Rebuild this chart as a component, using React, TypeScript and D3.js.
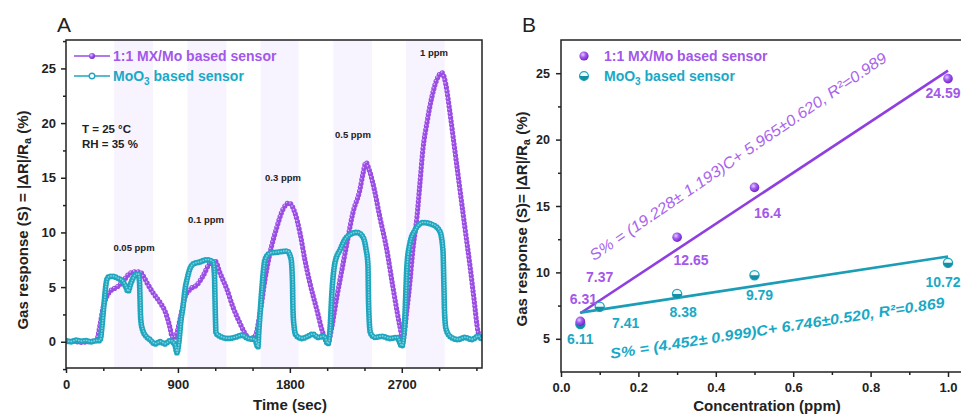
import React, { useRef, useEffect } from 'react'
import * as d3 from 'd3'

const W = 961
const H = 414
const FONT = '"Liberation Sans", Arial, Helvetica, sans-serif'
const INK = '#222'
const PURPLE = '#9a4de2'
const PURPLE_TEXT = '#a258ea'
const CYAN = '#1fa6be'
const CYAN_TEXT = '#19a9c6'

// ---- panel A: dynamic response (time in s, response in %) ----
const gasOn = [[388, 700], [977, 1290], [1565, 1870], [2150, 2460], [2735, 3045]]
const ppmLabels = ['0.05 ppm', '0.1 ppm', '0.3 ppm', '0.5 ppm', '1 ppm']
const timeTicks = [0, 900, 1800, 2700]
const responseTicksA = [0, 5, 10, 15, 20, 25]

const mxMoCurve = [
  [0, 0], [60, 0.05], [120, -0.05], [180, 0], [240, 0.1], [249, 0.2], [273, 1.5], [298, 3.1], [322, 4.0],
  [354, 4.6], [410, 5.0], [458, 5.5], [498, 6.1], [547, 6.4], [595, 6.4], [627, 5.9], [651, 5.4], [699, 4.5],
  [756, 3.6], [788, 3.0], [812, 2.3], [836, 1.3], [852, 0.5], [868, 0.3], [892, 0.8], [916, 2.0], [957, 4.1],
  [997, 4.8], [1053, 5.2], [1101, 6.0], [1158, 7.2], [1198, 7.4], [1238, 6.3], [1294, 4.8], [1342, 3.2],
  [1399, 1.7], [1455, 0.5], [1479, 0.3], [1519, 0.5], [1560, 2.6], [1600, 5.7], [1640, 8.1], [1696, 10.5],
  [1744, 12.1], [1793, 12.7], [1841, 11.8], [1881, 10.0], [1921, 7.5], [1961, 5.4], [2018, 2.9], [2066, 0.8],
  [2106, -0.1], [2138, 1.4], [2178, 4.1], [2219, 6.6], [2259, 9.0], [2307, 11.8], [2363, 13.9], [2387, 15.3],
  [2412, 16.4], [2436, 15.8], [2468, 14.5], [2524, 11.4], [2580, 8.4], [2629, 5.0], [2685, 1.4], [2709, 0.2],
  [2741, 2.9], [2765, 5.4], [2789, 8.4], [2822, 11.4], [2846, 14.5], [2870, 17.6], [2902, 20.0], [2942, 22.4],
  [2982, 24.0], [3023, 24.6], [3055, 23.5], [3087, 21.0], [3127, 17.5], [3167, 14.0], [3207, 10.5],
  [3248, 7.0], [3280, 4.0], [3312, 1.0], [3336, 0.2],
]

const mooCurve = [
  [0, 0.1], [40, 0.0], [80, 0.15], [120, 0.05], [160, 0.1], [200, 0.0], [240, 0.1], [270, 0.1], [281, 0.5],
  [290, 1.5], [306, 3.5], [322, 5.3], [338, 5.9], [370, 6.0], [418, 5.8], [458, 5.5], [482, 5.0], [498, 4.6],
  [523, 5.4], [555, 6.1], [579, 6.2], [591, 5.5], [595, 4.0], [599, 2.5], [603, 1.8], [619, 1.0], [643, 0.5],
  [675, 0.2], [716, -0.2], [756, 0.0], [796, -0.2], [836, 0.1], [876, -0.3], [892, -1.0], [908, 0.0],
  [925, 2.0], [941, 3.2], [957, 4.8], [973, 5.7], [997, 6.7], [1021, 7.1], [1077, 7.3], [1134, 7.5],
  [1182, 7.3], [1194, 6.0], [1198, 4.0], [1202, 2.0], [1206, 0.8], [1238, 0.5], [1302, 0.3], [1358, 0.4],
  [1415, 0.6], [1463, 0.3], [1519, 0.2], [1543, -0.5], [1551, 1.0], [1560, 2.5], [1576, 5.0], [1600, 7.5],
  [1640, 8.1], [1704, 8.2], [1777, 8.3], [1809, 7.6], [1821, 5.5], [1825, 3.0], [1833, 1.5], [1849, 0.6],
  [1897, 0.3], [1945, 0.5], [1986, 0.7], [2026, 0.4], [2074, 0.5], [2106, -0.2], [2122, 1.0], [2138, 4.5],
  [2162, 7.2], [2203, 8.4], [2259, 9.6], [2339, 10.0], [2387, 9.6], [2412, 8.5], [2428, 7.0], [2432, 4.0],
  [2436, 2.5], [2448, 0.8], [2484, 0.4], [2540, 0.5], [2605, 0.3], [2661, 0.4], [2701, -0.4], [2717, 0.8],
  [2725, 2.3], [2741, 6.9], [2765, 9.0], [2806, 10.2], [2870, 10.9], [2950, 10.7], [3006, 10.1],
  [3031, 8.4], [3039, 5.0], [3043, 3.0], [3055, 1.2], [3087, 0.5], [3151, 0.2], [3207, 0.4], [3264, 0.2],
  [3312, 0.5], [3336, 0.3],
]

// ---- panel B: response vs concentration ----
const concentrations = [0.05, 0.1, 0.3, 0.5, 1.0]
const mxMoResponse = [6.31, 7.37, 12.65, 16.4, 24.59]
const mooResponse = [6.11, 7.41, 8.38, 9.79, 10.72]
const mxMoFit = [19.228, 5.965]
const mooFit = [4.452, 6.746]
const mxMoEquation = 'S% = (19.228± 1.193)C+ 5.965±0.620, R²=0.989'
const mooEquation = 'S% = (4.452± 0.999)C+ 6.746±0.520, R²=0.869'
const concTicks = [0, 0.2, 0.4, 0.6, 0.8, 1.0]
const responseTicksB = [5, 10, 15, 20, 25]

// layout for annotations (data coords / pixel offsets)
const ppmLabelAt = [[547, 8.3], [1126, 10.9], [1745, 14.7], [2307, 18.6], [2959, 26.1]]
const mxMoLabelOffset = [[3, -17], [0, -25], [14, 28], [13, 31], [-5, 19]]
const mooLabelOffset = [[0, 20], [26, 21], [6, 23], [5, 25], [-5, 24]]

function styleAxis(g, size) {
  g.attr('font-family', FONT).attr('font-size', size).attr('font-weight', 'bold')
  g.select('.domain').remove()
  g.selectAll('line').attr('stroke', INK).attr('stroke-width', 1.5)
  g.selectAll('text').attr('fill', INK)
}

function dottedSeries(g, d, color, w, gap, inner, innerW, shift) {
  g.append('path').attr('d', d).attr('fill', 'none').attr('stroke', color).attr('stroke-width', 1.2)
  g.append('path').attr('d', d).attr('fill', 'none').attr('stroke', color).attr('stroke-width', w)
    .attr('stroke-linecap', 'round').attr('stroke-dasharray', `0 ${gap}`)
  g.append('path').attr('d', d).attr('fill', 'none').attr('stroke', inner).attr('stroke-width', innerW)
    .attr('stroke-linecap', 'round').attr('stroke-dasharray', `0 ${gap}`)
    .attr('transform', `translate(${shift[0]},${shift[1]})`)
}

function halfMarker(g, x, y, r) {
  g.append('circle').attr('cx', x).attr('cy', y).attr('r', r).attr('fill', '#eefafc').attr('stroke', CYAN).attr('stroke-width', 1.3)
  g.append('path').attr('d', `M${x - r},${y} A${r},${r} 0 0 0 ${x + r},${y} Z`).attr('fill', '#138fa6')
}

function drawA(svg) {
  const x = d3.scaleLinear().domain([0, 3345]).range([66, 482])
  const y = d3.scaleLinear().domain([-2.4, 27.6]).range([368, 40])
  const a = svg.append('g')

  a.append('clipPath').attr('id', 'clipA').append('rect')
    .attr('x', 66).attr('y', 40).attr('width', 416).attr('height', 328)

  a.selectAll('rect.band').data(gasOn).join('rect').attr('class', 'band')
    .attr('x', d => x(d[0])).attr('width', d => x(d[1]) - x(d[0]))
    .attr('y', y(27.6)).attr('height', y(-2.4) - y(27.6)).attr('fill', '#f7f3ff')

  const line = d3.line().x(d => x(d[0])).y(d => y(d[1])).curve(d3.curveMonotoneX)
  const plot = a.append('g').attr('clip-path', 'url(#clipA)')
  dottedSeries(plot, line(mxMoCurve), PURPLE, 5.2, 3.8, '#d7b6fb', 1.6, [-0.7, -0.9])
  dottedSeries(plot, line(mooCurve), CYAN, 5.8, 2.6, '#7fd0df', 1.8, [0.3, -0.3])

  const gx = a.append('g').attr('transform', 'translate(0,368)')
    .call(d3.axisBottom(x).tickValues(timeTicks).tickSize(5).tickPadding(7).tickFormat(d3.format('d')))
  styleAxis(gx, 13)
  const gxm = a.append('g').attr('transform', 'translate(0,368)')
    .call(d3.axisBottom(x).tickValues(d3.range(300, 3345, 300).filter(v => v % 900 !== 0)).tickSize(3).tickFormat(() => ''))
  styleAxis(gxm, 13)
  const gy = a.append('g').attr('transform', 'translate(66,0)')
    .call(d3.axisLeft(y).tickValues(responseTicksA).tickSize(5).tickPadding(5))
  styleAxis(gy, 13)
  const gym = a.append('g').attr('transform', 'translate(66,0)')
    .call(d3.axisLeft(y).tickValues(d3.range(-2.5, 27.6, 5)).tickSize(3).tickFormat(() => ''))
  styleAxis(gym, 13)

  a.append('rect').attr('x', 66).attr('y', 40).attr('width', 416).attr('height', 328)
    .attr('fill', 'none').attr('stroke', INK).attr('stroke-width', 1.5)

  a.selectAll('text.ppm').data(ppmLabels).join('text').attr('class', 'ppm')
    .attr('x', (d, i) => x(ppmLabelAt[i][0])).attr('y', (d, i) => y(ppmLabelAt[i][1]))
    .attr('text-anchor', 'middle').attr('font-family', FONT).attr('font-size', 9.5)
    .attr('font-weight', 'bold').attr('fill', INK).text(d => d)

  // legend
  a.append('line').attr('x1', 74).attr('x2', 110).attr('y1', 56).attr('y2', 56).attr('stroke', PURPLE).attr('stroke-width', 1.5)
  a.append('circle').attr('cx', 92).attr('cy', 56).attr('r', 3).attr('fill', 'url(#sphereP)')
  a.append('line').attr('x1', 74).attr('x2', 110).attr('y1', 76).attr('y2', 76).attr('stroke', CYAN).attr('stroke-width', 1.5)
  a.append('circle').attr('cx', 92).attr('cy', 76).attr('r', 2.8).attr('fill', '#fff').attr('stroke', CYAN).attr('stroke-width', 1.4)
  a.append('text').attr('x', 113).attr('y', 61).attr('font-family', FONT).attr('font-size', 14)
    .attr('font-weight', 'bold').attr('fill', PURPLE_TEXT).text('1:1 MX/Mo based sensor')
  const t2 = a.append('text').attr('x', 113).attr('y', 81).attr('font-family', FONT).attr('font-size', 14)
    .attr('font-weight', 'bold').attr('fill', CYAN_TEXT)
  t2.append('tspan').text('MoO')
  t2.append('tspan').attr('dy', 4).attr('font-size', 10).text('3')
  t2.append('tspan').attr('dy', -4).text(' based sensor')

  a.append('text').attr('x', 82).attr('y', 133).attr('font-family', FONT).attr('font-size', 11.5)
    .attr('font-weight', 'bold').attr('fill', INK).text('T = 25 °C')
  a.append('text').attr('x', 82).attr('y', 148).attr('font-family', FONT).attr('font-size', 11.5)
    .attr('font-weight', 'bold').attr('fill', INK).text('RH = 35 %')

  a.append('text').attr('x', 57).attr('y', 32).attr('font-family', FONT).attr('font-size', 21).attr('fill', INK).text('A')
  a.append('text').attr('x', 290).attr('y', 410).attr('text-anchor', 'middle').attr('font-family', FONT)
    .attr('font-size', 15).attr('font-weight', 'bold').attr('fill', INK).text('Time (sec)')
  const yt = a.append('text').attr('transform', 'translate(28,220) rotate(-90)').attr('text-anchor', 'middle')
    .attr('font-family', FONT).attr('font-size', 15).attr('font-weight', 'bold').attr('fill', INK)
  yt.append('tspan').text('Gas response (S) = |ΔR|/R')
  yt.append('tspan').attr('dy', 3).attr('font-size', 11).text('a')
  yt.append('tspan').attr('dy', -3).text(' (%)')
}

function drawB(svg) {
  const x = d3.scaleLinear().domain([0, 1]).range([561, 948])
  const y = d3.scaleLinear().domain([2.5, 27.5]).range([372, 40])
  const b = svg.append('g')

  const gx = b.append('g').attr('transform', 'translate(0,372)')
    .call(d3.axisBottom(x).tickValues(concTicks).tickSize(5).tickPadding(6).tickFormat(d3.format('.1f')))
  styleAxis(gx, 13)
  const gxm = b.append('g').attr('transform', 'translate(0,372)')
    .call(d3.axisBottom(x).tickValues([0.1, 0.3, 0.5, 0.7, 0.9]).tickSize(3).tickFormat(() => ''))
  styleAxis(gxm, 13)
  const gy = b.append('g').attr('transform', 'translate(561,0)')
    .call(d3.axisLeft(y).tickValues(responseTicksB).tickSize(5).tickPadding(6))
  styleAxis(gy, 12.5)
  const gym = b.append('g').attr('transform', 'translate(561,0)')
    .call(d3.axisLeft(y).tickValues([7.5, 12.5, 17.5, 22.5]).tickSize(3).tickFormat(() => ''))
  styleAxis(gym, 12.5)

  b.append('path').attr('d', `M${W + 5},40 H561 V372 H${W + 5}`).attr('fill', 'none')
    .attr('stroke', INK).attr('stroke-width', 1.5)

  // fit lines
  const ends = [concentrations[0], concentrations[concentrations.length - 1]]
  ;[[mxMoFit, '#8f3fe0'], [mooFit, '#1a9db6']].forEach(([f, c]) => {
    b.append('path').attr('d', d3.line().x(d => x(d)).y(d => y(f[0] * d + f[1]))(ends))
      .attr('fill', 'none').attr('stroke', c).attr('stroke-width', 2.6)
  })

  // markers
  concentrations.forEach((c, i) => {
    halfMarker(b, x(c), y(mooResponse[i]), 4.6)
    if (i !== 1) b.append('circle').attr('cx', x(c)).attr('cy', y(mxMoResponse[i])).attr('r', 4.8).attr('fill', 'url(#sphereP)')
  })

  b.selectAll('text.lp').data(mxMoResponse).join('text').attr('class', 'lp')
    .attr('x', (d, i) => x(concentrations[i]) + mxMoLabelOffset[i][0])
    .attr('y', (d, i) => y(d) + mxMoLabelOffset[i][1])
    .attr('text-anchor', 'middle').attr('font-family', FONT).attr('font-size', 14).attr('font-weight', 'bold')
    .attr('fill', PURPLE_TEXT).text(d => String(d))
  b.selectAll('text.lc').data(mooResponse).join('text').attr('class', 'lc')
    .attr('x', (d, i) => x(concentrations[i]) + mooLabelOffset[i][0])
    .attr('y', (d, i) => y(d) + mooLabelOffset[i][1])
    .attr('text-anchor', 'middle').attr('font-family', FONT).attr('font-size', 14).attr('font-weight', 'bold')
    .attr('fill', CYAN_TEXT).text(d => String(d))

  // equations, rotated along their fit lines
  const angle = f => Math.atan2(y(f[0] + f[1]) - y(f[1]), x(1) - x(0)) * 180 / Math.PI
  b.append('text').attr('transform', `translate(${x(0.465)},${y(18.4)}) rotate(${angle(mxMoFit) - 0.9})`)
    .attr('text-anchor', 'middle').attr('font-family', FONT).attr('font-size', 15.5).attr('font-style', 'italic')
    .attr('textLength', 356).attr('lengthAdjust', 'spacingAndGlyphs')
    .attr('fill', '#a964ec').text(mxMoEquation)
  b.append('text').attr('transform', `translate(${x(0.561)},${y(5.44)}) rotate(${angle(mooFit) - 0.1})`)
    .attr('text-anchor', 'middle').attr('font-family', FONT).attr('font-size', 14.5).attr('font-style', 'italic')
    .attr('font-weight', 'bold').attr('textLength', 338).attr('lengthAdjust', 'spacingAndGlyphs')
    .attr('fill', CYAN_TEXT).text(mooEquation)

  // legend
  b.append('circle').attr('cx', 584).attr('cy', 56).attr('r', 4.6).attr('fill', 'url(#sphereP)')
  halfMarker(b, 584, 76, 4.4)
  b.append('text').attr('x', 604).attr('y', 61).attr('font-family', FONT).attr('font-size', 14)
    .attr('font-weight', 'bold').attr('fill', PURPLE_TEXT).text('1:1 MX/Mo based sensor')
  const t2 = b.append('text').attr('x', 604).attr('y', 81).attr('font-family', FONT).attr('font-size', 14)
    .attr('font-weight', 'bold').attr('fill', CYAN_TEXT)
  t2.append('tspan').text('MoO')
  t2.append('tspan').attr('dy', 4).attr('font-size', 10).text('3')
  t2.append('tspan').attr('dy', -4).text(' based sensor')

  b.append('text').attr('x', 522).attr('y', 32).attr('font-family', FONT).attr('font-size', 21).attr('fill', INK).text('B')
  b.append('text').attr('x', 767).attr('y', 411).attr('text-anchor', 'middle').attr('font-family', FONT)
    .attr('font-size', 15).attr('font-weight', 'bold').attr('fill', INK).text('Concentration (ppm)')
  const yt = b.append('text').attr('transform', 'translate(527,219) rotate(-90)').attr('text-anchor', 'middle')
    .attr('font-family', FONT).attr('font-size', 15).attr('font-weight', 'bold').attr('fill', INK)
  yt.append('tspan').text('Gas response (S)= |ΔR|/R')
  yt.append('tspan').attr('dy', 3).attr('font-size', 11).text('a')
  yt.append('tspan').attr('dy', -3).text(' (%)')
}

export default function App() {
  const canvas = useRef<SVGSVGElement>(null)

  useEffect(() => {
    const svg = d3.select(canvas.current)
    svg.selectAll('*').remove()
    const grad = svg.append('defs').append('radialGradient').attr('id', 'sphereP')
      .attr('cx', '38%').attr('cy', '35%').attr('r', '65%')
    grad.append('stop').attr('offset', '0%').attr('stop-color', '#e6cdff')
    grad.append('stop').attr('offset', '45%').attr('stop-color', '#a45ef0')
    grad.append('stop').attr('offset', '100%').attr('stop-color', '#7324c8')
    drawA(svg)
    drawB(svg)
  }, [])

  return (
    <svg ref={canvas} width={W} height={H} style={{ position: 'absolute', left: 0, top: 0, background: '#fff' }} />
  )
}
